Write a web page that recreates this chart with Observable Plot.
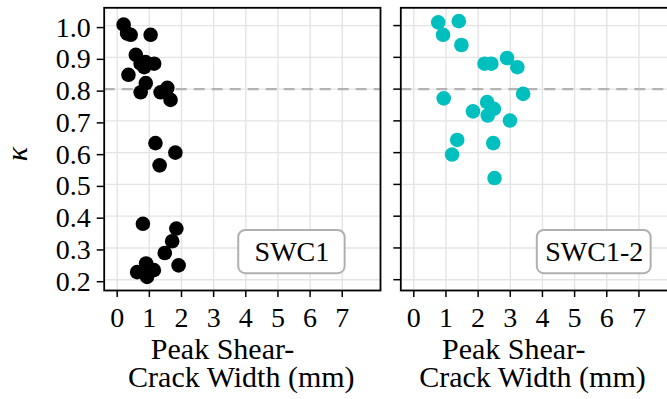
<!DOCTYPE html>
<html>
<head>
<meta charset="utf-8">
<script src="https://cdn.jsdelivr.net/npm/d3@7"></script>
<script src="https://cdn.jsdelivr.net/npm/@observablehq/plot@0.6"></script>
<style>
  html, body { margin: 0; padding: 0; background: #fff; overflow: hidden; }
  #chart { position: relative; width: 667px; height: 399px; overflow: hidden; }
  #chart svg { position: absolute; top: 0; }
  #chart svg, #chart svg text { font-family: 'Liberation Serif', 'Times New Roman', serif !important; }
</style>
</head>
<body>
<div id="chart"></div>
<script>
// Specimens (panels) and their colours
const specimens = ["SWC1", "SWC1-2"];
const specimenColors = ["#000000", "#00bfbf"];

// SWC1: peak shear-crack width (mm) and kappa
const swc1Width = [0.20, 0.42, 0.31, 1.04, 0.58, 0.73, 0.88, 1.15, 0.84, 0.35, 0.89, 0.73, 1.35, 1.56, 1.66, 1.19, 1.81, 1.32, 0.80, 1.84, 1.71, 1.48, 1.91, 0.62, 0.90, 1.14, 0.93];
const swc1Kappa = [1.003, 0.971, 0.975, 0.971, 0.908, 0.880, 0.885, 0.880, 0.869, 0.845, 0.819, 0.790, 0.790, 0.804, 0.766, 0.630, 0.600, 0.560, 0.376, 0.361, 0.321, 0.284, 0.245, 0.224, 0.251, 0.230, 0.209];

// SWC1-2
const swc12Width = [0.76, 1.40, 0.91, 1.48, 2.20, 2.41, 2.90, 3.22, 3.40, 0.93, 2.28, 2.49, 1.84, 2.30, 2.99, 1.35, 2.47, 1.19, 2.51];
const swc12Kappa = [1.010, 1.014, 0.971, 0.939, 0.880, 0.880, 0.898, 0.869, 0.785, 0.771, 0.759, 0.738, 0.730, 0.717, 0.701, 0.640, 0.630, 0.594, 0.520];

// Reference line
const kappaRef = [0.8];

// Ticks
const xTicks = [0, 1, 2, 3, 4, 5, 6, 7];
const yTicks = [0.2, 0.3, 0.4, 0.5, 0.6, 0.7, 0.8, 0.9, 1.0];

// Axis titles
const xTitle = "Peak Shear-\u00a0\u00a0\u00a0\u00a0\u00a0\nCrack Width (mm)";
const yTitle = "κ";

// Specimen label boxes (data units)
const boxX1 = [3.78, 3.84];
const boxX2 = [7.09, 7.38];
const boxY1 = [0.219, 0.219];
const boxY2 = [0.355, 0.355];

const widths = [swc1Width, swc12Width];
const kappas = [swc1Kappa, swc12Kappa];

const font = "Liberation Serif";
const container = document.getElementById("chart");

function panel(i, layout) {
  const pts = widths[i].map((w, j) => ({width: w, kappa: kappas[i][j]}));
  const box = [{label: specimens[i], x1: boxX1[i], x2: boxX2[i], y1: boxY1[i], y2: boxY2[i]}];
  const marks = [
    Plot.gridX({ticks: xTicks, stroke: "#e4e4e4", strokeOpacity: 1, strokeWidth: 1.4}),
    Plot.gridY({ticks: yTicks, stroke: "#e4e4e4", strokeOpacity: 1, strokeWidth: 1.4}),
    Plot.ruleY(kappaRef, {stroke: "#b3b3b3", strokeWidth: 2.2, strokeDasharray: "11,7"}),
    Plot.dot(pts, {x: "width", y: "kappa", fill: specimenColors[i], r: 7.3, stroke: "none"}),
    Plot.rect(box, {x1: "x1", x2: "x2", y1: "y1", y2: "y2", rx: 7, fill: "white", stroke: "#b0b0b0", strokeWidth: 2}),
    Plot.text(box, {x: d => (d.x1 + d.x2) / 2, y: d => (d.y1 + d.y2) / 2, text: "label", fontSize: 28, fill: "#000"}),
    Plot.frame({stroke: "#000", strokeWidth: 1.8}),
    Plot.axisX({ticks: xTicks, tickSize: 7, tickPadding: 10, label: null, fontSize: 28, strokeWidth: 1.5}),
    Plot.text([xTitle], {frameAnchor: "bottom", text: d => d, lineAnchor: "bottom", lineHeight: 0.947, dy: 96.7, dx: layout.titleDx, fontSize: 30, fill: "#000"})
  ];
  if (i === 0) {
    marks.push(
      Plot.axisY({ticks: yTicks, tickSize: 7, tickPadding: 6.5, label: null, tickFormat: d3.format(".1f"), fontSize: 28, dy: 2, strokeWidth: 1.5}),
      Plot.text([yTitle], {frameAnchor: "left", text: d => d, rotate: -90, dx: -87, dy: 12, fontSize: 30, fontStyle: "italic", fill: "#000"})
    );
  } else {
    marks.push(
      Plot.axisY({ticks: yTicks, tickSize: 7, label: null, tickFormat: () => "", strokeWidth: 1.5})
    );
  }
  const svg = Plot.plot({
    width: layout.width,
    height: 399,
    marginLeft: layout.marginLeft,
    marginRight: layout.marginRight,
    marginTop: 7.3,
    marginBottom: 109,
    style: {fontFamily: font, fontSize: "28px", color: "#000", background: "transparent", overflow: "visible"},
    x: {domain: [-0.404, 8.19], label: null},
    y: {domain: [0.166, 1.056], label: null},
    marks
  });
  svg.style.left = layout.left + "px";
  container.appendChild(svg);
}

panel(0, {left: 0, width: 390, marginLeft: 103.7, marginRight: 10, titleDx: -1});
panel(1, {left: 390, width: 290, marginLeft: 10.3, marginRight: 3.3, titleDx: -6.5});
</script>
</body>
</html>
